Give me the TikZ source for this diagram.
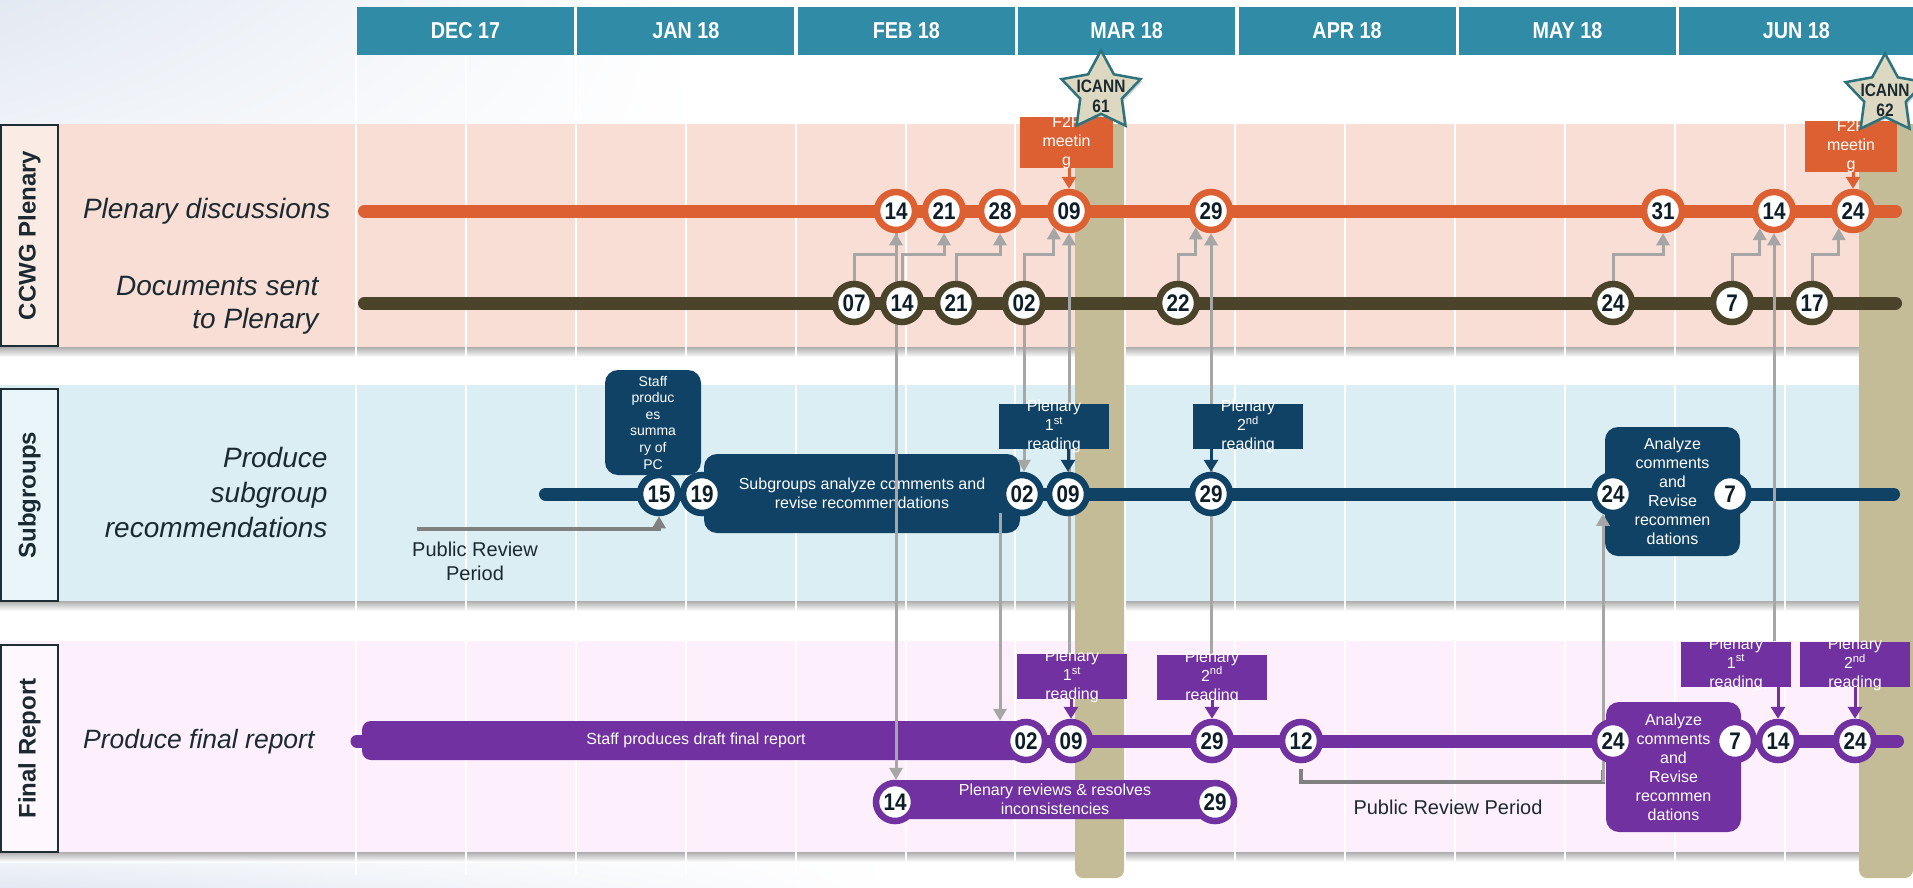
\documentclass[tikz,border=0pt]{standalone}
\usepackage{fontspec}
\setmainfont{Liberation Sans}
\newfontfamily\narrowfont{Liberation Sans}[FakeStretch=0.86]
\usetikzlibrary{arrows.meta,shapes.geometric,shadows,shadings,calc,positioning}

\definecolor{hdrteal}{HTML}{2F8BA6}
\definecolor{plpink}{HTML}{F8DED5}
\definecolor{plpinklt}{HTML}{FBEBE5}
\definecolor{sgblue}{HTML}{DAEEF3}
\definecolor{sgbluelt}{HTML}{E9F5F8}
\definecolor{frpink}{HTML}{FDF0FC}
\definecolor{frpinklt}{HTML}{FEF7FE}
\definecolor{orng}{HTML}{DD6033}
\definecolor{olive}{HTML}{4B432A}
\definecolor{navy}{HTML}{0F4265}
\definecolor{purp}{HTML}{7131A0}
\definecolor{icanntan}{HTML}{C4BC96}
\definecolor{starfill}{HTML}{DDD8C1}
\definecolor{starline}{HTML}{2E727C}
\definecolor{lnkgray}{HTML}{A6A6A6}
\definecolor{brgray}{HTML}{808080}
\definecolor{inktxt}{HTML}{1B2A31}
\definecolor{numtxt}{HTML}{0E1E28}
\definecolor{bgtint}{HTML}{E3E9F2}
\definecolor{boxline}{HTML}{1E2E34}

\pgfdeclarelayer{bands}
\pgfdeclarelayer{links}
\pgfdeclarelayer{stars}
\pgfsetlayers{bands,links,main,stars}

\tikzset{
  month/.style={fill=hdrteal, text=white, minimum height=48pt, minimum width=217pt, inner sep=0pt, font=\narrowfont\bfseries\fontsize{23}{27}\selectfont},
  lanebox/.style={draw=boxline, line width=1.6pt, fill=#1, rotate=90, minimum height=57pt, inner sep=0pt, text=inktxt, font=\bfseries\fontsize{24}{28}\selectfont},
  rowlabel/.style={anchor=east, align=right, text=inktxt, font=\itshape\fontsize{28}{34}\selectfont},
  day/.style={circle, draw=#1, line width=6.5pt, fill=white, minimum size=38pt, inner sep=0pt, text=numtxt, font=\narrowfont\bfseries\fontsize{24}{24}\selectfont},
  lane/.style={draw=#1, line width=13pt, line cap=round},
  taskbox/.style={fill=#1, rounded corners=13pt, inner sep=0pt, align=center, text=white, font=\fontsize{16}{19}\selectfont},
  notebox/.style={fill=#1, minimum width=110pt, minimum height=45pt, inner sep=0pt},
  notetext/.style={align=center, text=white, font=\fontsize{16}{19}\selectfont},
  link/.style={draw=lnkgray, line width=3pt, -{Triangle[width=13pt,length=12pt]}},
  feed/.style={draw=#1, line width=3pt, -{Triangle[width=14pt,length=12pt]}},
  review/.style={draw=brgray, line width=4pt},
  icann/.style={star, star points=5, star point ratio=1.9, minimum size=83pt, inner sep=0pt, fill=starfill, draw=starline, line width=2.5pt, drop shadow={opacity=0.35, shadow xshift=2pt, shadow yshift=-2pt}},
  icanntext/.style={align=center, text=inktxt, font=\narrowfont\bfseries\fontsize{18}{20}\selectfont},
  prtext/.style={align=center, text=inktxt, font=\fontsize{20}{24}\selectfont},
}

\begin{document}
\begin{tikzpicture}[x=1pt, y=-1pt]
\useasboundingbox (0,0) rectangle (1913,887);

\begin{pgfonlayer}{bands}
  % slide background
  \fill[white] (0,0) rectangle (1913,887);
  \shade[upper left=bgtint, upper right=white, lower left=bgtint!60!white, lower right=white] (0,0) rectangle (700,124);
  \shade[upper left=bgtint!40!white, upper right=white, lower left=bgtint, lower right=white] (0,852) rectangle (900,887);
  % swim lanes
  \fill[plpink] (0,124) rectangle (1912,347);
  \fill[sgblue] (0,385) rectangle (1912,601);
  \fill[frpink] (0,641) rectangle (1912,852);
  \shade[top color=black!32, bottom color=white] (0,347) rectangle (1860,357);
  \shade[top color=black!32, bottom color=white] (0,601) rectangle (1860,611);
  \shade[top color=black!32, bottom color=white] (0,852) rectangle (1860,862);
  % half-month grid
  \draw[white, line width=2.5pt] (356,55) -- (356,875) (466,55) -- (466,875) (576,55) -- (576,875)
    (686,55) -- (686,875) (796,55) -- (796,875) (906,55) -- (906,875) (1015,55) -- (1015,875)
    (1125,55) -- (1125,875) (1235,55) -- (1235,875) (1345,55) -- (1345,875) (1455,55) -- (1455,875)
    (1565,55) -- (1565,875) (1675,55) -- (1675,875) (1785,55) -- (1785,875);
  % lane titles
  \node[lanebox=plpinklt, minimum width=221pt] (ccwg) at (29.5,235.5) {CCWG Plenary};
  \node[lanebox=sgbluelt, minimum width=212pt] (subg) at (29.5,495) {Subgroups};
  \node[lanebox=frpinklt, minimum width=207pt] (finr) at (29.5,748.5) {Final Report};
  \node[rowlabel] (pd-label) at (334,211) {Plenary discussions};
  \node[rowlabel, font=\itshape\fontsize{28}{33}\selectfont] (ds-label) at (322,305.5) {Documents sent\\to Plenary};
  \node[rowlabel, font=\itshape\fontsize{28}{35}\selectfont] (sg-label) at (331,492.5) {Produce\\subgroup\\recommendations};
  \node[rowlabel, font=\itshape\fontsize{26.5}{32}\selectfont] (fr-label) at (318,742) {Produce final report};
  % months
  \node[month] (dec17) at (465.5,31) {DEC 17};
  \node[month, right=3pt of dec17] (jan18) {JAN 18};
  \node[month, right=3pt of jan18] (feb18) {FEB 18};
  \node[month, right=3pt of feb18] (mar18) {MAR 18};
  \node[month, right=3pt of mar18] (apr18) {APR 18};
  \node[month, right=3pt of apr18] (may18) {MAY 18};
  \node[month, right=3pt of may18, minimum width=234pt] (jun18) {JUN 18};
  % ICANN weeks
  \fill[icanntan] (1075,124) -- (1124,124) [rounded corners=8pt] -- (1124,878) -- (1075,878) [sharp corners] -- cycle;
  \fill[icanntan] (1859,124) -- (1913,124) [rounded corners=8pt] -- (1913,878) -- (1859,878) [sharp corners] -- cycle;
  % timelines
  \coordinate (pd-a) at (364.5,211); \coordinate (pd-b) at (1895.5,211);
  \coordinate (ds-a) at (364.5,303); \coordinate (ds-b) at (1895.5,303);
  \coordinate (sg-a) at (545.5,494); \coordinate (sg-b) at (1893.5,494);
  \coordinate (fr-a) at (357,741);   \coordinate (fr-b) at (1897.5,741);
  \draw[lane=orng] (pd-a) -- (pd-b);
  \draw[lane=olive] (ds-a) -- (ds-b);
  \draw[lane=navy] (sg-a) -- (sg-b);
  \draw[lane=purp] (fr-a) -- (fr-b);
  % task boxes
  \node[taskbox=navy, minimum width=96pt, minimum height=105pt, font=\fontsize{14}{16.6}\selectfont] (sg-summary) at (653,422.5) {Staff\\produc\\es\\summa\\ry of\\PC};
  \node[taskbox=navy, minimum width=316pt, minimum height=79pt] (sg-analyze) at (862,493.5) {Subgroups analyze comments and\\revise recommendations};
  \node[taskbox=navy, minimum width=135pt, minimum height=129pt] (sg-revise) at (1672.5,491.5) {Analyze\\comments\\and\\Revise\\recommen\\dations};
  \node[taskbox=purp, minimum width=668pt, minimum height=39pt, rounded corners=9pt] (fr-draft) at (696,740.5) {Staff produces draft final report};
  \node[taskbox=purp, minimum width=135pt, minimum height=130pt] (fr-revise) at (1673.5,767) {Analyze\\comments\\and\\Revise\\recommen\\dations};
  \node[taskbox=purp, minimum width=320pt, minimum height=39pt, rounded corners=6pt] (fr-review) at (1055,799.5) {Plenary reviews \& resolves\\inconsistencies};
\end{pgfonlayer}

% plenary discussions
\node[day=orng] (p14a) at (896,211) {14};
\node[day=orng] (p21) at (944,211) {21};
\node[day=orng] (p28) at (1000,211) {28};
\node[day=orng] (p09) at (1069,211) {09};
\node[day=orng] (p29) at (1211,211) {29};
\node[day=orng] (p31) at (1663,211) {31};
\node[day=orng] (p14b) at (1774,211) {14};
\node[day=orng] (p24) at (1853,211) {24};
% documents sent
\node[day=olive] (d07) at (854,303) {07};
\node[day=olive] (d14) at (902,303) {14};
\node[day=olive] (d21) at (956,303) {21};
\node[day=olive] (d02) at (1024,303) {02};
\node[day=olive] (d22) at (1178,303) {22};
\node[day=olive] (d24) at (1613,303) {24};
\node[day=olive] (d7) at (1732,303) {7};
\node[day=olive] (d17) at (1812,303) {17};
% subgroups
\node[day=navy] (s15) at (659,494) {15};
\node[day=navy] (s19) at (702,494) {19};
\node[day=navy] (s02) at (1022,494) {02};
\node[day=navy] (s09) at (1068,494) {09};
\node[day=navy] (s29) at (1211,494) {29};
\node[day=navy] (s24) at (1613,494) {24};
\node[day=navy] (s7) at (1730,494) {7};
% final report
\node[day=purp] (f02) at (1026,741) {02};
\node[day=purp] (f09) at (1071,741) {09};
\node[day=purp] (f29) at (1212,741) {29};
\node[day=purp] (f12) at (1301,741) {12};
\node[day=purp] (f24) at (1613,741) {24};
\node[day=purp] (f7) at (1735,741) {7};
\node[day=purp] (f14) at (1778,741) {14};
\node[day=purp] (f24b) at (1855,741) {24};
\node[day=purp] (r14) at (895,802) {14};
\node[day=purp] (r29) at (1215,802) {29};

% meetings and readings
\node[notebox=orng, minimum width=93pt, minimum height=51pt] (ff1) at (1066.5,142.5) {};
\node[notetext] (ff1-t) at (ff1.center) {F2F\\meetin\\g};
\node[notebox=orng, minimum width=92pt, minimum height=51pt] (ff2) at (1851,146.5) {};
\node[notetext] (ff2-t) at (ff2.center) {F2F\\meetin\\g};
\node[notebox=navy] (sr1) at (1054,426.5) {};
\node[notetext] (sr1-t) at (sr1.center) {Plenary\\1\textsuperscript{st}\\reading};
\node[notebox=navy] (sr2) at (1248,426.5) {};
\node[notetext] (sr2-t) at (sr2.center) {Plenary\\2\textsuperscript{nd}\\reading};
\node[notebox=purp] (fr1) at (1072,676.5) {};
\node[notetext] (fr1-t) at (fr1.center) {Plenary\\1\textsuperscript{st}\\reading};
\node[notebox=purp] (fr2) at (1212,677) {};
\node[notetext] (fr2-t) at (fr2.center) {Plenary\\2\textsuperscript{nd}\\reading};
\node[notebox=purp] (fr3) at (1736,664) {};
\node[notetext] (fr3-t) at (fr3.center) {Plenary\\1\textsuperscript{st}\\reading};
\node[notebox=purp] (fr4) at (1855,664.5) {};
\node[notetext] (fr4-t) at (fr4.center) {Plenary\\2\textsuperscript{nd}\\reading};
\draw[feed=orng] (ff1.south -| p09.north) -- (p09.north);
\draw[feed=orng] (ff2.south -| p24.north) -- (p24.north);
\draw[feed=navy] (sr1.south -| s09.north) -- (s09.north);
\draw[feed=navy] (sr2.south -| s29.north) -- (s29.north);
\draw[feed=purp] (fr1.south -| f09.north) -- (f09.north);
\draw[feed=purp] (fr2.south -| f29.north) -- (f29.north);
\draw[feed=purp] (fr3.south -| f14.north) -- (f14.north);
\draw[feed=purp] (fr4.south -| f24b.north) -- (f24b.north);

\begin{pgfonlayer}{links}
  % documents to plenary
  \draw[link] (d07.north) -- ++(0,-26) -| (p14a.south);
  \draw[link] (d14.north) -- ++(0,-26) -| (p21.south);
  \draw[link] (d21.north) -- ++(0,-26) -| (p28.south);
  \draw[link] (d02.north) -- ++(0,-26) -| (p09.227);
  \draw[link] (d22.north) -- ++(0,-26) -| (p29.227);
  \draw[link] (d24.north) -- ++(0,-26) -| (p31.south);
  \draw[link] (d7.north) -- ++(0,-26) -| (p14b.230);
  \draw[link] (d17.north) -- ++(0,-26) -| (p24.230);
  % readings back to plenary
  \draw[link] (fr1.north -| p09.south) -- (p09.south);
  \draw[link] (fr2.north -| p29.south) -- (p29.south);
  \draw[link] (fr3.north -| p14b.south) -- (p14b.south);
  \draw[link] (p14a.south) -- (p14a.south |- r14.north);
  \draw[link] (d02.south) -- (d02.south |- s02.north);
  \coordinate (sg-out) at (1000,513);
  \draw[link] (sg-out) -- (sg-out |- fr-draft.north);
  % public review periods
  \coordinate (sg-prp) at (417,529);
  \draw[link, draw=brgray, line width=3.5pt] (sg-prp) -| (s15.south);
  \coordinate (fr-prp) at (1603,782);
  \draw[review] ([yshift=-6pt]f12.south) |- (fr-prp) -- ++(0,-12);
  \draw[link] (fr-prp) -- (fr-prp |- s24.243);
  \node[prtext] (sg-prp-t) at (475,561) {Public Review\\Period};
  \node[prtext] (fr-prp-t) at (1448,807) {Public Review Period};
\end{pgfonlayer}

\begin{pgfonlayer}{stars}
  \node[icann] (icann61) at (1101,92) {};
  \node[icanntext] (icann61-t) at (1101,96.5) {ICANN\\61};
  \node[icann] (icann62) at (1885,95) {};
  \node[icanntext] (icann62-t) at (1885,100.5) {ICANN\\62};
\end{pgfonlayer}
\end{tikzpicture}
\end{document}
